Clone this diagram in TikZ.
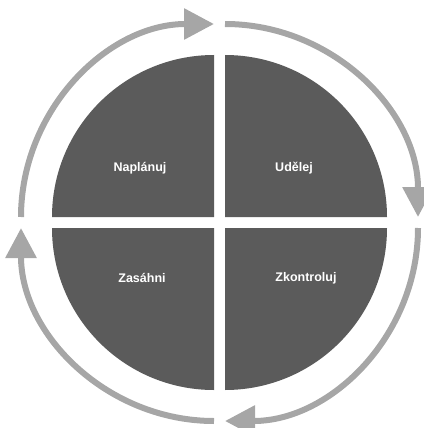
\documentclass[tikz,border=0pt]{standalone}
\usepackage{fontspec}
\setmainfont{Liberation Sans}
\usetikzlibrary{arrows.meta}
\definecolor{quad}{HTML}{5B5B5B}
\definecolor{ring}{HTML}{A6A6A6}
\tikzset{
  quadrant/.style={fill=quad, draw=none},
  cyclearc/.style={draw=ring, line width=6pt, -{Triangle[length=30pt,width=30pt]}},
  lbl/.style={text=white, font=\fontsize{12.5pt}{14pt}\selectfont\bfseries}
}
\begin{document}
\begin{tikzpicture}[x=1pt,y=1pt]
\useasboundingbox (0,0) rectangle (423,-428);
\coordinate (tl) at (214,-217);
\coordinate (tr) at (225,-217);
\coordinate (bl) at (214,-228);
\coordinate (br) at (225,-228);
% quadrants
\fill[quadrant] (tl) -- ++(-162,0) arc[start angle=180,end angle=90,radius=162] -- cycle;
\fill[quadrant] (tr) -- ++(0,162) arc[start angle=90,end angle=0,radius=162] -- cycle;
\fill[quadrant] (br) -- ++(162,0) arc[start angle=0,end angle=-90,radius=162] -- cycle;
\fill[quadrant] (bl) -- ++(0,-162) arc[start angle=270,end angle=180,radius=162] -- cycle;
% cycle arrows
\draw[cyclearc] (tl) ++(-193,0) arc[start angle=180,end angle=90,radius=193];
\draw[cyclearc] (tr) ++(0,193) arc[start angle=90,end angle=0,radius=193];
\draw[cyclearc] (br) ++(193,0) arc[start angle=0,end angle=-90,radius=193];
\draw[cyclearc] (bl) ++(0,-193) arc[start angle=270,end angle=180,radius=193];
% labels
\node[lbl] (plan) at (140,-168) {Naplánuj};
\node[lbl] (do) at (294,-168) {Udělej};
\node[lbl] (act) at (142,-278) {Zasáhni};
\node[lbl] (check) at (306,-278) {Zkontroluj};
\end{tikzpicture}
\end{document}
